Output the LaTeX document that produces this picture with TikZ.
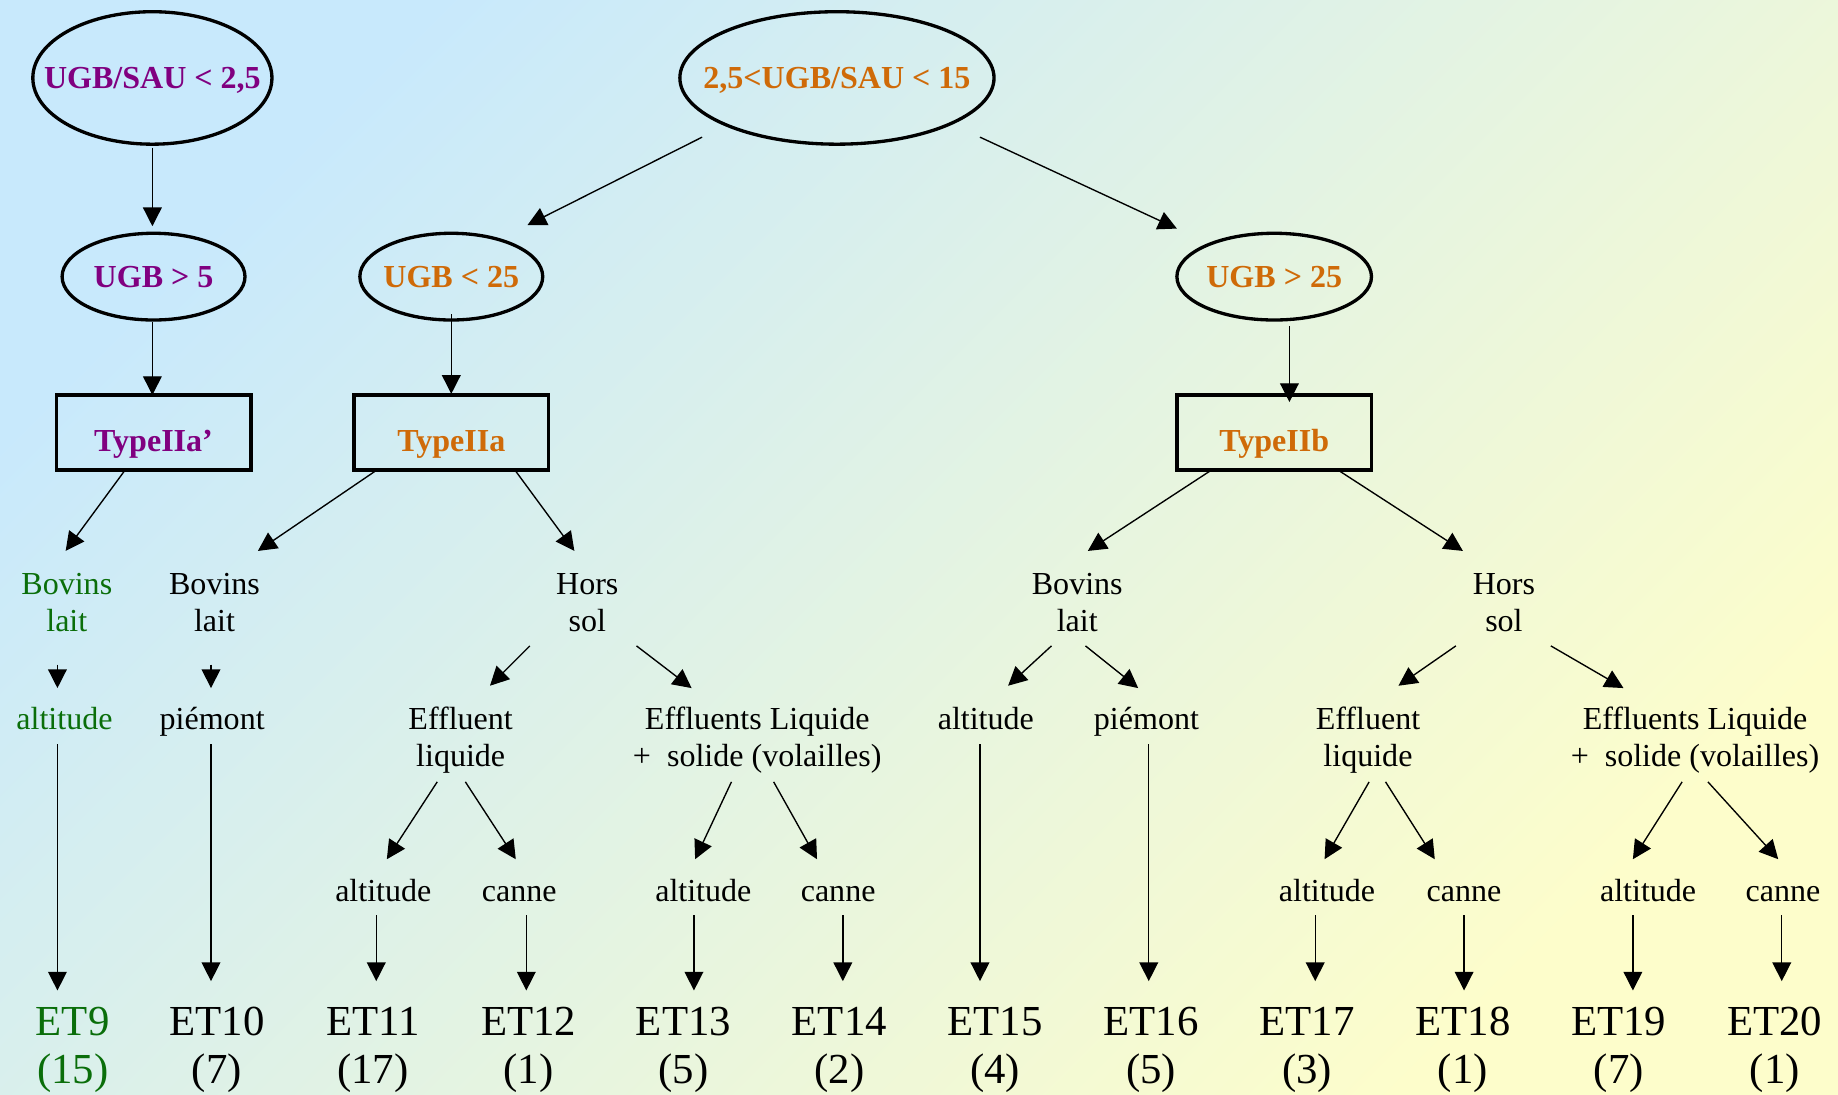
\documentclass[tikz,border=0pt]{standalone}
\usepackage{fontspec}
\setmainfont{Liberation Serif}
\usetikzlibrary{arrows.meta,calc,shapes.geometric}
\definecolor{bgA}{RGB}{200,233,252}
\definecolor{bgB}{RGB}{253,253,203}
\definecolor{lpurple}{RGB}{128,0,128}
\definecolor{lorange}{RGB}{207,106,8}
\definecolor{lgreen}{RGB}{10,110,10}
% stacked lines whose baseline is that of the first line
\newcommand\stk[1]{\begin{tabular}[t]{@{}c@{}}#1\end{tabular}}
\begin{document}
\begin{tikzpicture}[x=0.6pt,y=-0.6pt,
  condshape/.style={ellipse, draw, line width=1.7pt, inner sep=0pt},
  condtext/.style={inner sep=0pt, font=\fontsize{16.4}{19}\selectfont\bfseries, text height=11pt, text depth=0pt},
  typebox/.style={rectangle, draw, line width=1.7pt, minimum width=99.6pt, minimum height=38.4pt, inner sep=0pt},
  typetext/.style={anchor=base, inner sep=0pt, font=\fontsize{16.4}{19}\selectfont\bfseries},
  lab/.style={anchor=base, inner sep=0pt, font=\fontsize{16.4}{19.2}\selectfont},
  leaf/.style={anchor=base, inner sep=0pt, font=\fontsize{21.9}{24.6}\selectfont},
  arr/.style={-{Triangle[length=9.6pt,width=9.6pt]}, line width=0.7pt},
]
% background
\shade[top color=bgA, bottom color=bgB, shading angle=45] (0,0) rectangle (1568,934);
\useasboundingbox (0,0) rectangle (1568,934);

% conditions
\node[condshape, minimum width=122.4pt, minimum height=67.8pt] (A) at (130,66.5) {};
\node[condtext, text=lpurple] (At) at (A) {UGB/SAU < 2,5};
\node[condshape, minimum width=160.8pt, minimum height=67.8pt] (B) at (714,66.5) {};
\node[condtext, text=lorange] (Bt) at (B) {2,5<UGB/SAU < 15};
\node[condshape, minimum width=93.6pt, minimum height=44.4pt] (C) at (131,236) {};
\node[condtext, text=lpurple] (Ct) at (C) {UGB > 5};
\node[condshape, minimum width=93.6pt, minimum height=44.4pt] (D) at (385,236) {};
\node[condtext, text=lorange] (Dt) at (D) {UGB < 25};
\node[condshape, minimum width=99.6pt, minimum height=44.4pt] (E) at (1087,236) {};
\node[condtext, text=lorange] (Et) at (E) {UGB > 25};

% types
\node[typebox] (F) at (131,369) {};
\node[typetext, text=lpurple] (Ft) at (131,385) {TypeIIa’};
\node[typebox] (G) at (385,369) {};
\node[typetext, text=lorange] (Gt) at (385,385) {TypeIIa};
\node[typebox] (H) at (1087,369) {};
\node[typetext, text=lorange] (Ht) at (1087,385) {TypeIIb};

% level 4
\node[lab, text=lgreen] (BLg) at (57,507) {\stk{Bovins\\lait}};
\node[lab] (BL1) at (183,507) {\stk{Bovins\\lait}};
\node[lab] (HS1) at (501,507) {\stk{Hors\\sol}};
\node[lab] (BL2) at (919,507) {\stk{Bovins\\lait}};
\node[lab] (HS2) at (1283,507) {\stk{Hors\\sol}};

% level 5
\node[lab, text=lgreen] (ALg) at (55,622) {altitude};
\node[lab] (PM1) at (181,622) {piémont};
\node[lab] (EL1) at (393,622) {\stk{Effluent\\liquide}};
\node[lab] (ES1) at (646,622) {\stk{Effluents Liquide\\+\ \ solide (volailles)}};
\node[lab] (AL2) at (841,622) {altitude};
\node[lab] (PM2) at (978,622) {piémont};
\node[lab] (EL2) at (1167,622) {\stk{Effluent\\liquide}};
\node[lab] (ES2) at (1446,622) {\stk{Effluents Liquide\\+\ \ solide (volailles)}};

% level 6
\node[lab] (a1) at (327,769) {altitude};
\node[lab] (c1) at (443,769) {canne};
\node[lab] (a2) at (600,769) {altitude};
\node[lab] (c2) at (715,769) {canne};
\node[lab] (a3) at (1132,769) {altitude};
\node[lab] (c3) at (1249,769) {canne};
\node[lab] (a4) at (1406,769) {altitude};
\node[lab] (c4) at (1521,769) {canne};

% leaves
\node[leaf, text=lgreen] (ET9) at (62,883) {\stk{ET9\\(15)}};
\node[leaf] (ET10) at (185,883) {\stk{ET10\\(7)}};
\node[leaf] (ET11) at (318,883) {\stk{ET11\\(17)}};
\node[leaf] (ET12) at (451,883) {\stk{ET12\\(1)}};
\node[leaf] (ET13) at (583,883) {\stk{ET13\\(5)}};
\node[leaf] (ET14) at (716,883) {\stk{ET14\\(2)}};
\node[leaf] (ET15) at (849,883) {\stk{ET15\\(4)}};
\node[leaf] (ET16) at (982,883) {\stk{ET16\\(5)}};
\node[leaf] (ET17) at (1115,883) {\stk{ET17\\(3)}};
\node[leaf] (ET18) at (1248,883) {\stk{ET18\\(1)}};
\node[leaf] (ET19) at (1381,883) {\stk{ET19\\(7)}};
\node[leaf] (ET20) at (1514,883) {\stk{ET20\\(1)}};

% connectors between conditions and types
\draw[arr] ($(A)+(0,59.5)$) -- ($(C)+(-1,-43)$);
\draw[arr] ($(C)+(-1,39)$) -- ($(F)+(-1,-32)$);
\draw[arr] ($(B)+(-115,50.5)$) -- ($(D)+(65,-44)$);
\draw[arr] ($(B)+(122,50.5)$) -- ($(E)+(-83,-41)$);
\draw[arr] ($(D)+(0,32)$) -- ($(G)+(0,-33)$);
\draw[arr] ($(E)+(13,42)$) -- ($(H)+(13,-26)$);

% types to productions
\draw[arr] ($(F)+(-25,33)$) -- ($(BLg.base)+(-1,-37)$);
\draw[arr] ($(G)+(-65,33)$) -- ($(BL1.base)+(37,-37)$);
\draw[arr] ($(G)+(55,33)$) -- ($(HS1.base)+(-11,-37)$);
\draw[arr] ($(H)+(-55,33)$) -- ($(BL2.base)+(9,-37)$);
\draw[arr] ($(H)+(56,33)$) -- ($(HS2.base)+(-35,-37)$);

% productions to sub-branches
\draw[arr] ($(BLg.base)+(-8,60)$) -- ($(ALg.base)+(-6,-35)$);
\draw[arr] ($(BL1.base)+(-3,60)$) -- ($(PM1.base)+(-1,-35)$);
\draw[arr] ($(HS1.base)+(-49,44)$) -- ($(EL1.base)+(25,-37)$);
\draw[arr] ($(HS1.base)+(42,44)$) -- ($(ES1.base)+(-56,-35)$);
\draw[arr] ($(BL2.base)+(-22,44)$) -- ($(AL2.base)+(19,-37)$);
\draw[arr] ($(BL2.base)+(7,44)$) -- ($(PM2.base)+(-7,-35)$);
\draw[arr] ($(HS2.base)+(-41,44)$) -- ($(EL2.base)+(26,-37)$);
\draw[arr] ($(HS2.base)+(40,44)$) -- ($(ES2.base)+(-61,-35)$);

% long branches to leaves
\draw[arr] ($(ALg.base)+(-6,13)$) -- ($(ET9.base)+(-13,-38)$);
\draw[arr] ($(PM1.base)+(-1,13)$) -- ($(ET10.base)+(-5,-46)$);
\draw[arr] ($(AL2.base)+(-5,13)$) -- ($(ET15.base)+(-13,-46)$);
\draw[arr] ($(PM2.base)+(2,13)$) -- ($(ET16.base)+(-2,-46)$);

% effluents to zones
\draw[arr] ($(EL1.base)+(-20,45)$) -- ($(a1.base)+(3,-36)$);
\draw[arr] ($(EL1.base)+(4,45)$) -- ($(c1.base)+(-3,-36)$);
\draw[arr] ($(ES1.base)+(-22,45)$) -- ($(a2.base)+(-7,-36)$);
\draw[arr] ($(ES1.base)+(14,45)$) -- ($(c2.base)+(-18,-36)$);
\draw[arr] ($(EL2.base)+(1,45)$) -- ($(a3.base)+(-2,-36)$);
\draw[arr] ($(EL2.base)+(15,45)$) -- ($(c3.base)+(-25,-36)$);
\draw[arr] ($(ES2.base)+(-11,45)$) -- ($(a4.base)+(-13,-36)$);
\draw[arr] ($(ES2.base)+(11,45)$) -- ($(c4.base)+(-4,-36)$);

% zones to leaves
\draw[arr] ($(a1.base)+(-6,12)$) -- ($(ET11.base)+(3,-46)$);
\draw[arr] ($(c1.base)+(6,12)$) -- ($(ET12.base)+(-2,-38)$);
\draw[arr] ($(a2.base)+(-8,12)$) -- ($(ET13.base)+(9,-38)$);
\draw[arr] ($(c2.base)+(4,12)$) -- ($(ET14.base)+(3,-46)$);
\draw[arr] ($(a3.base)+(-10,12)$) -- ($(ET17.base)+(7,-46)$);
\draw[arr] ($(c3.base)+(0,12)$) -- ($(ET18.base)+(1,-38)$);
\draw[arr] ($(a4.base)+(-13,12)$) -- ($(ET19.base)+(12,-38)$);
\draw[arr] ($(c4.base)+(-1,12)$) -- ($(ET20.base)+(6,-46)$);
\end{tikzpicture}
\end{document}
